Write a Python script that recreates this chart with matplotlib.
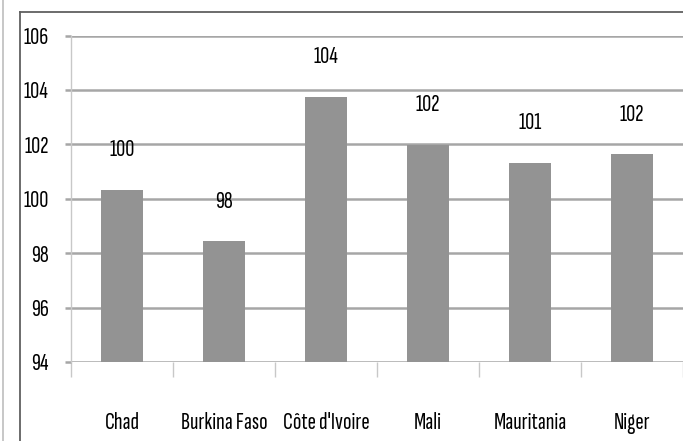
import numpy as np
import matplotlib
matplotlib.use('Agg')
import matplotlib.pyplot as plt
from matplotlib.lines import Line2D

categories = ['Chad', 'Burkina Faso', "Côte d'Ivoire", 'Mali', 'Mauritania', 'Niger']
values = [100.33, 98.44, 103.75, 101.98, 101.33, 101.63]
value_labels = ['100', '98', '104', '102', '101', '102']
yticks = [94, 96, 98, 100, 102, 104, 106]

plt.rcParams['font.family'] = ['Sofia Sans Extra Condensed', 'Pathway Gothic One', 'DejaVu Sans']

W, H = 683, 441
FS = 18
fig = plt.figure(figsize=(W / 100, H / 100), dpi=100)
ax = fig.add_axes([71 / W, 1 - 362 / H, 612 / W, 326.5 / H])

x = np.arange(len(categories)) + 0.5
ax.bar(x, values, width=0.41, color='#939393', zorder=3)
ax.set_ylim(yticks[0], yticks[-1])
ax.set_xlim(0, len(categories))

for xi, v, lab in zip(x, values, value_labels):
    ax.annotate(lab, (xi, v), xytext=(0, 28.5), textcoords='offset points',
                ha='center', va='center', fontsize=FS, color='black')

ax.set_yticks(yticks)
ax.set_yticklabels([str(t) for t in yticks])
ax.yaxis.grid(True, color='#a6a6a6', linewidth=1.8)
ax.set_axisbelow(True)
ax.tick_params(axis='y', length=4, width=1.8, color='#a6a6a6', pad=12, labelsize=FS)

ax.set_xticks(x)
ax.set_xticklabels(categories)
ax.set_xticks(np.arange(len(categories) + 1), minor=True)
ax.tick_params(axis='x', which='major', length=0, pad=36, labelsize=FS)
ax.tick_params(axis='x', which='minor', length=11, width=1, color='#c8c8c8')

for s in ['top', 'right', 'bottom']:
    ax.spines[s].set_visible(False)
ax.spines['left'].set_color('#c8c8c8')
ax.spines['left'].set_linewidth(1)

# outer chart frame
fig.add_artist(Line2D([20 / W, 20 / W], [0, 1 - 12 / H], transform=fig.transFigure,
                      color='#606060', linewidth=1.3))
fig.add_artist(Line2D([20 / W, 1], [1 - 12 / H, 1 - 12 / H], transform=fig.transFigure,
                      color='#606060', linewidth=1.3))
fig.add_artist(Line2D([2.5 / W, 2.5 / W], [0, 1], transform=fig.transFigure,
                      color='#bdbdbd', linewidth=1.2))

fig.savefig('out.png', dpi=100)
